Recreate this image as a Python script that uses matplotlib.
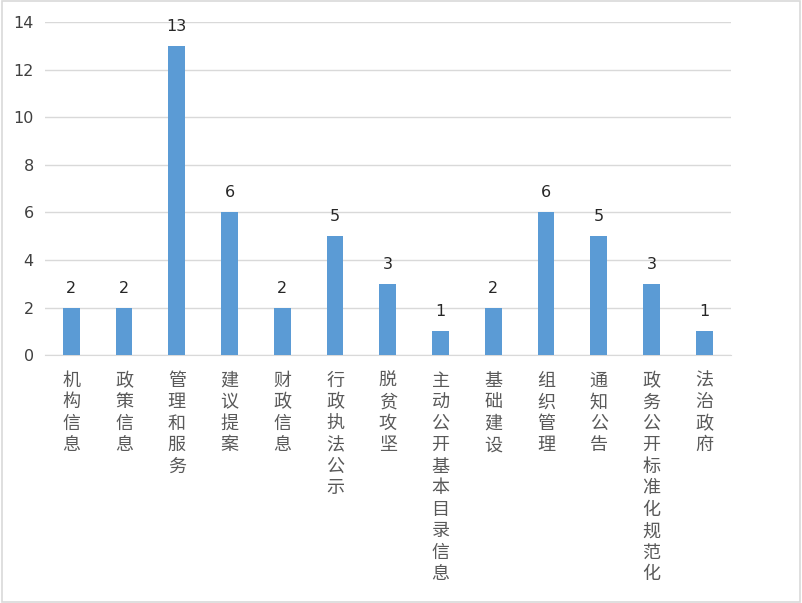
import matplotlib.pyplot as plt
import matplotlib.patches as patches
import numpy as np

plt.rcParams['font.family'] = ['Noto Sans CJK SC', 'DejaVu Sans']

categories = ['机构信息', '政策信息', '管理和服务', '建议提案', '财政信息', '行政执法公示',
              '脱贫攻坚', '主动公开基本目录信息', '基础建设', '组织管理', '通知公告',
              '政务公开标准化规范化', '法治政府']
values = [2, 2, 13, 6, 2, 5, 3, 1, 2, 6, 5, 3, 1]
yticks = [0, 2, 4, 6, 8, 10, 12, 14]

fig = plt.figure(figsize=(8.02, 6.03), dpi=100)
ax = fig.add_axes([0.056, 0.411, 0.855, 0.5525])

x = np.arange(len(categories))
ax.bar(x, values, width=0.32, color='#5b9bd5', zorder=3)

for xi, v in zip(x, values):
    ax.text(xi, v + 0.5, str(v), ha='center', va='bottom', fontsize=11.5,
            color='#262626', family='DejaVu Sans')

ax.set_xlim(-0.5, len(categories) - 0.5)
ax.set_ylim(0, 14)
ax.set_yticks(yticks)
ax.set_yticklabels([str(t) for t in yticks], fontsize=11.5, color='#404040', family='DejaVu Sans')
ax.tick_params(axis='y', length=0, pad=8)
ax.yaxis.grid(True, color='#d9d9d9', linewidth=1, zorder=0)
ax.set_xticks(x)
ax.set_xticklabels(['\n'.join(c) for c in categories], fontsize=13, color='#595959',
                   va='top', linespacing=1.25)
ax.tick_params(axis='x', length=0, pad=12)

for s in ['top', 'right', 'left']:
    ax.spines[s].set_visible(False)
ax.spines['bottom'].set_color('#d9d9d9')

fig.patches.append(patches.Rectangle((0.002, 0.002), 0.996, 0.996, transform=fig.transFigure,
                                     fill=False, edgecolor='#d9d9d9', linewidth=1.2))

plt.savefig('out.png', dpi=100)
